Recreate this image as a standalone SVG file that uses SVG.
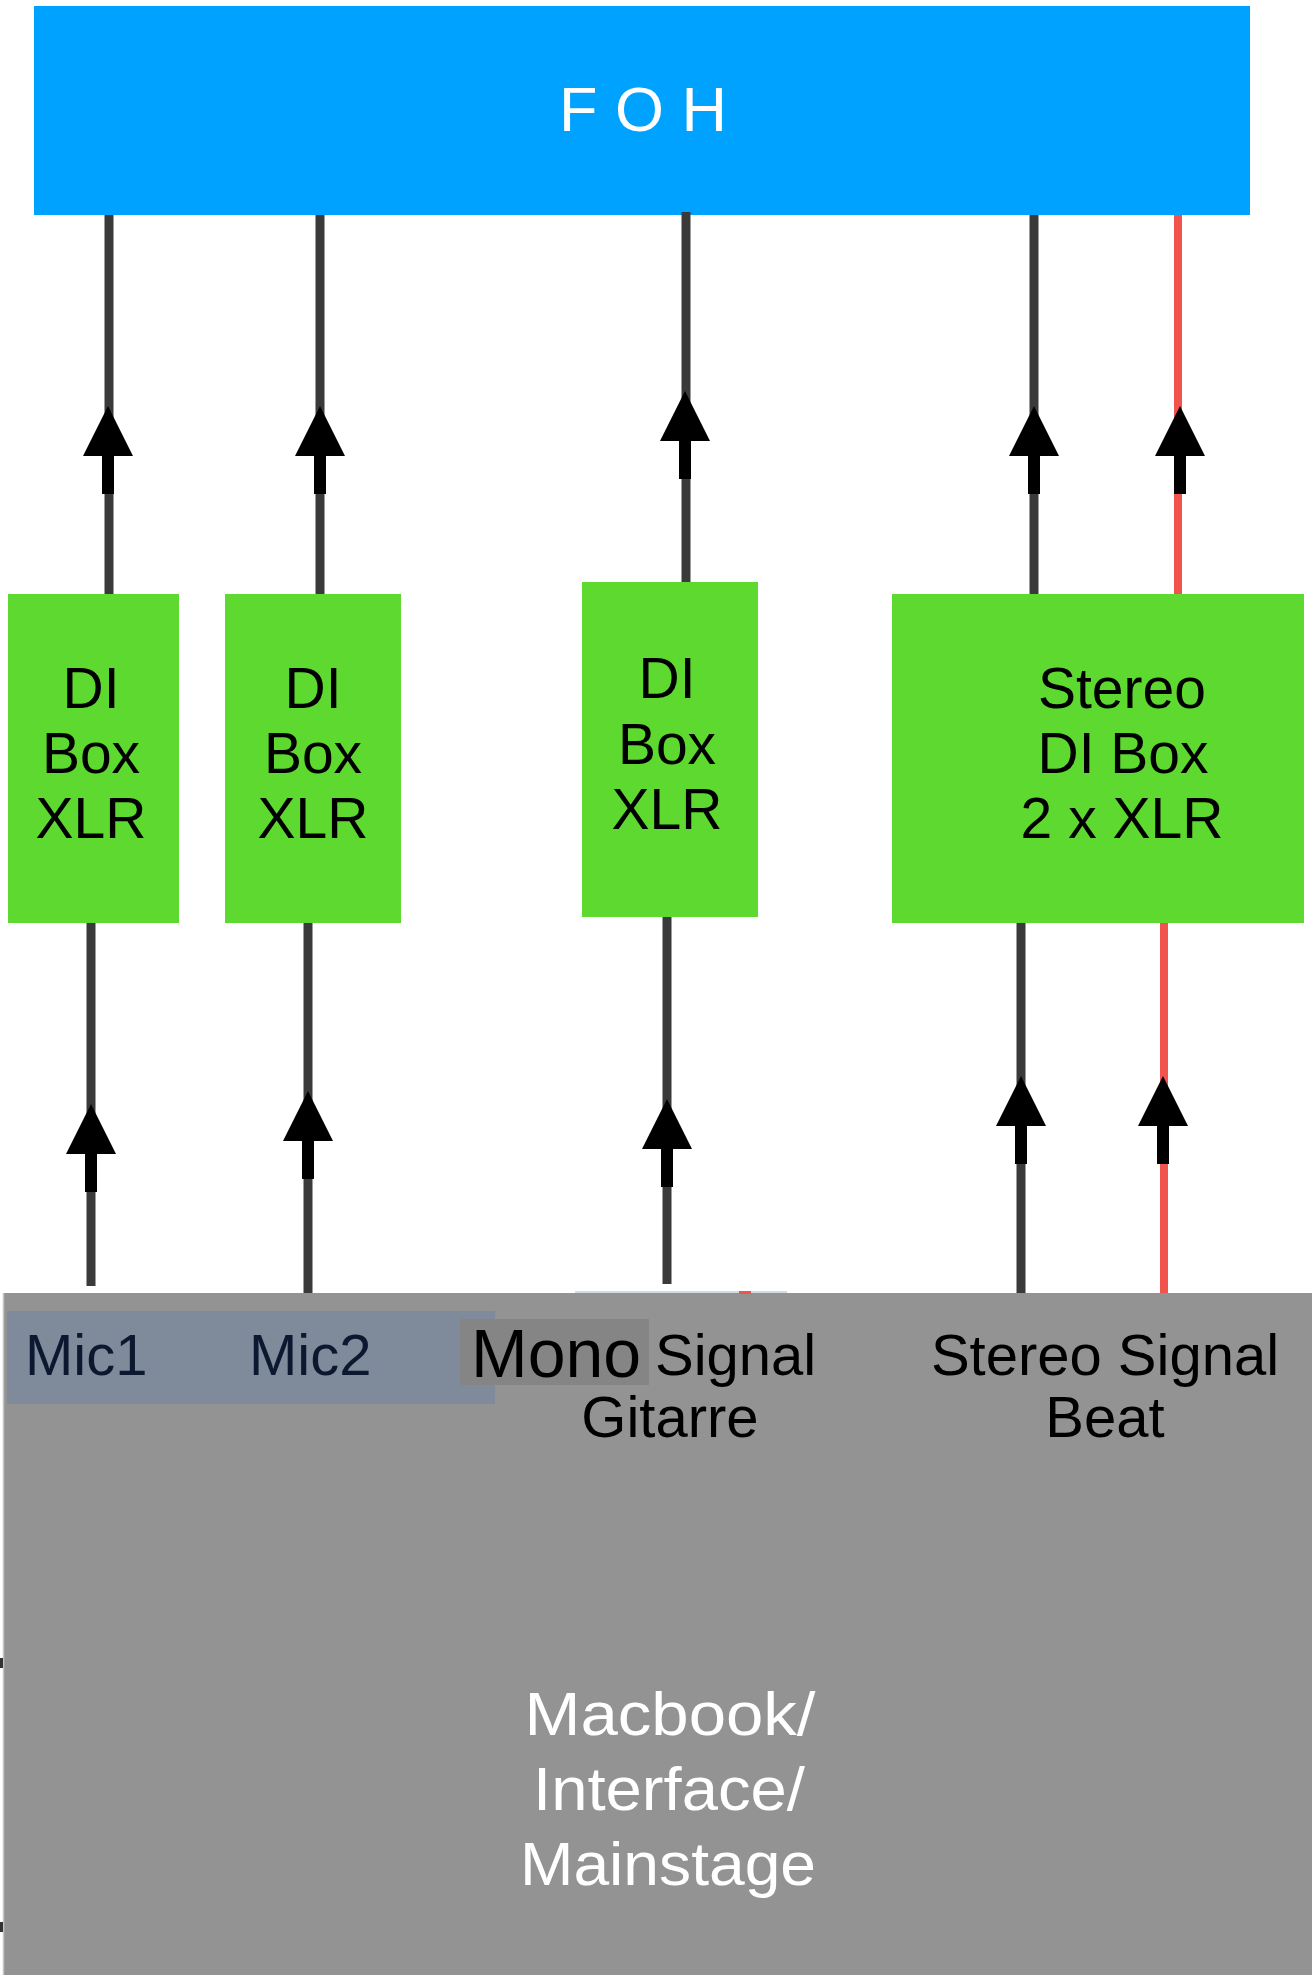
<svg xmlns="http://www.w3.org/2000/svg" width="1312" height="1980" viewBox="0 0 1312 1980">
<style>
.t{font-family:"Liberation Sans",Arial,sans-serif}
.box{fill:#5ED92F}
.bt{font-family:"Liberation Sans",Arial,sans-serif;font-size:57px;fill:#000;text-anchor:middle}
.ln{stroke:#3a3a3a;stroke-width:9;fill:none}
.red{stroke:#F0544C;stroke-width:8;fill:none}
.lbl{font-family:"Liberation Sans",Arial,sans-serif;font-size:58px}
</style>
<defs>
<g id="ah">
<polygon points="0,0 25,50 -25,50" fill="#000"/>
<rect x="-6" y="49" width="12" height="39" fill="#000"/>
</g>
</defs>
<rect width="1312" height="1980" fill="#fff"/>

<g id="foh">
<rect x="34" y="6" width="1216" height="209" fill="#00A2FF"/>
<text class="t" x="643" y="131" font-size="63" fill="#fff" text-anchor="middle">F O H</text>
</g>

<g id="connectors">
<line class="ln" x1="109" y1="215" x2="109" y2="594"/>
<use href="#ah" x="108" y="406"/>
<line class="ln" x1="320" y1="215" x2="320" y2="594"/>
<use href="#ah" x="320" y="406"/>
<line class="ln" x1="686" y1="212" x2="686" y2="583"/>
<use href="#ah" x="685" y="391"/>
<line class="ln" x1="1034" y1="215" x2="1034" y2="594"/>
<use href="#ah" x="1034" y="406"/>
<line class="red" x1="1178" y1="215" x2="1178" y2="594"/>
<use href="#ah" x="1180" y="406"/>

<line class="ln" x1="91" y1="923" x2="91" y2="1286"/>
<use href="#ah" x="91" y="1104"/>
<line class="ln" x1="308" y1="923" x2="308" y2="1294"/>
<use href="#ah" x="308" y="1091"/>
<line class="ln" x1="667" y1="917" x2="667" y2="1284"/>
<use href="#ah" x="667" y="1099"/>
<line class="ln" x1="1021" y1="923" x2="1021" y2="1294"/>
<use href="#ah" x="1021" y="1076"/>
<line class="red" x1="1164" y1="923" x2="1164" y2="1294"/>
<use href="#ah" x="1163" y="1076"/>
</g>

<g id="di1">
<rect class="box" x="8" y="594" width="171" height="329"/>
<text class="bt" x="91" y="708">DI</text>
<text class="bt" x="91" y="773">Box</text>
<text class="bt" x="91" y="838">XLR</text>
</g>
<g id="di2">
<rect class="box" x="225" y="594" width="176" height="329"/>
<text class="bt" x="313" y="708">DI</text>
<text class="bt" x="313" y="773">Box</text>
<text class="bt" x="313" y="838">XLR</text>
</g>
<g id="di3">
<rect class="box" x="582" y="582" width="176" height="335"/>
<text class="bt" x="667" y="698">DI</text>
<text class="bt" x="667" y="764">Box</text>
<text class="bt" x="667" y="829">XLR</text>
</g>
<g id="di4">
<rect class="box" x="892" y="594" width="412" height="329"/>
<text class="bt" x="1122" y="708">Stereo</text>
<text class="bt" x="1123" y="773">DI Box</text>
<text class="bt" x="1122" y="838">2 x XLR</text>
</g>

<g id="macbook">
<rect x="3" y="1293" width="1309" height="682" fill="#939393"/>
<line x1="3.5" y1="1293" x2="3.5" y2="1975" stroke="#c4c4c4" stroke-width="1.5"/>
<line x1="575" y1="1292" x2="787" y2="1292" stroke="#cfdde6" stroke-width="2"/>
<rect x="739" y="1291" width="12" height="3" fill="#F0544C"/>
<rect x="0" y="1658" width="3" height="10" fill="#333"/>
<rect x="0" y="1922" width="3" height="10" fill="#333"/>
<rect x="7" y="1311" width="488" height="93" fill="#7F8A9B"/>
<rect x="460" y="1319" width="189" height="66" fill="#858585"/>
<text class="lbl" x="25" y="1375" fill="#0b1830">Mic1</text>
<text class="lbl" x="249" y="1375" fill="#0b1830">Mic2</text>
<text class="t" x="471" y="1377" font-size="68" fill="#000">Mono</text>
<text class="lbl" x="655" y="1375" fill="#000">Signal</text>
<text class="lbl" x="670" y="1437" fill="#000" text-anchor="middle">Gitarre</text>
<text class="lbl" x="1105" y="1375" fill="#000" text-anchor="middle">Stereo Signal</text>
<text class="lbl" x="1105" y="1437" fill="#000" text-anchor="middle">Beat</text>
<text class="t" x="670" y="1735" font-size="61" fill="#fff" text-anchor="middle" textLength="291" lengthAdjust="spacingAndGlyphs">Macbook/</text>
<text class="t" x="669" y="1810" font-size="61" fill="#fff" text-anchor="middle" textLength="272" lengthAdjust="spacingAndGlyphs">Interface/</text>
<text class="t" x="668" y="1885" font-size="61" fill="#fff" text-anchor="middle" textLength="296" lengthAdjust="spacingAndGlyphs">Mainstage</text>
</g>
</svg>
